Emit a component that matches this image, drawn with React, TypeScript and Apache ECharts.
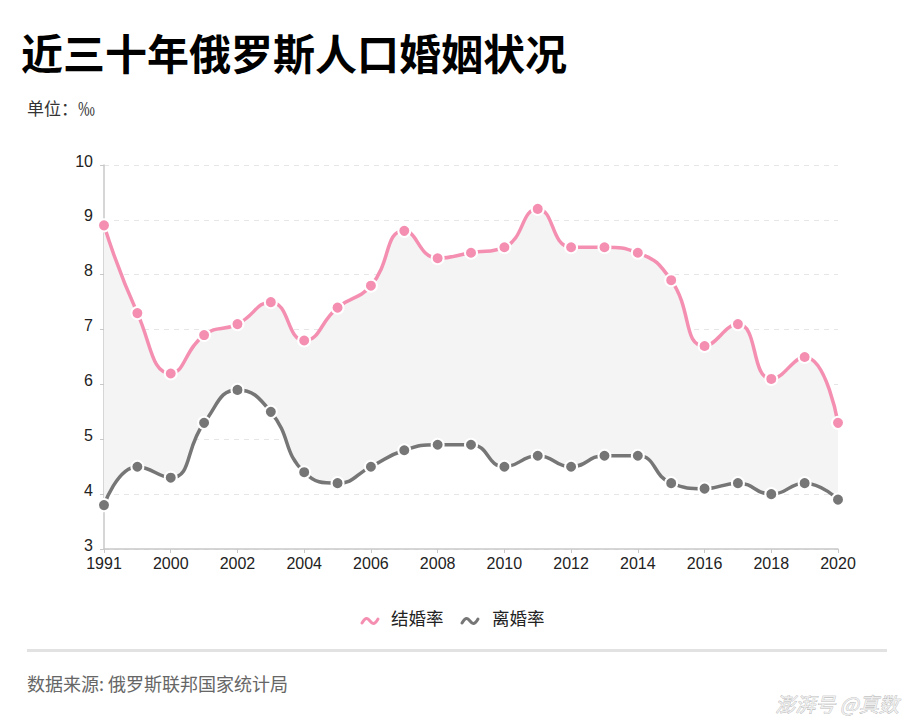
import React, { useEffect, useRef } from "react";
import * as echarts from "echarts";

const years = ["1991", "1995", "2000", "2001", "2002", "2003", "2004", "2005", "2006", "2007", "2008", "2009", "2010", "2011", "2012", "2013", "2014", "2015", "2016", "2017", "2018", "2019", "2020"];
const marriageRate = [8.9, 7.3, 6.2, 6.9, 7.1, 7.5, 6.8, 7.4, 7.8, 8.8, 8.3, 8.4, 8.5, 9.2, 8.5, 8.5, 8.4, 7.9, 6.7, 7.1, 6.1, 6.5, 5.3];
const divorceRate = [3.8, 4.5, 4.3, 5.3, 5.9, 5.5, 4.4, 4.2, 4.5, 4.8, 4.9, 4.9, 4.5, 4.7, 4.5, 4.7, 4.7, 4.2, 4.1, 4.2, 4.0, 4.2, 3.9];
const yTicks = { min: 3, max: 10, interval: 1 };
const seriesNames = ["结婚率", "离婚率"];

const PINK = "#F48FB1";
const GRAY = "#767676";
const FONT = '"Liberation Sans", Arial, "Noto Sans CJK SC", sans-serif';
const CJK = '"Noto Sans CJK SC", "Liberation Sans", sans-serif';

function wave(x: number, y: number, color: string) {
  return {
    type: "bezierCurve",
    shape: { x1: x, y1: y + 2, x2: x + 16, y2: y - 2, cpx1: x + 8, cpy1: y - 12, cpx2: x + 8, cpy2: y + 12 },
    style: { stroke: color, lineWidth: 3, fill: "none", lineCap: "round" },
  };
}

export default function App() {
  const ref = useRef<HTMLDivElement>(null);
  useEffect(() => {
    if (!ref.current) return;
    const chart = echarts.init(ref.current, null, { renderer: "svg" });
    const band = marriageRate.map((m, i) => +(m - divorceRate[i]).toFixed(2));
    chart.setOption({
      animation: false,
      textStyle: { fontFamily: FONT },
      graphic: [
        { type: "text", left: 21, top: 30, style: { text: "近三十年俄罗斯人口婚姻状况", fontSize: 42, fontWeight: "bold", fill: "#000", fontFamily: CJK } },
        { type: "text", left: 27, top: 99, style: { text: "单位：‰", fontSize: 17, fill: "#333", fontFamily: CJK } },
        wave(362, 621, PINK),
        { type: "text", left: 391, top: 609, style: { text: seriesNames[0], fontSize: 17.5, fill: "#222", fontFamily: CJK } },
        wave(462, 621, GRAY),
        { type: "text", left: 492, top: 609, style: { text: seriesNames[1], fontSize: 17.5, fill: "#222", fontFamily: CJK } },
        { type: "rect", shape: { x: 27, y: 649, width: 860, height: 3 }, style: { fill: "#e2e2e2" } },
        { type: "text", left: 27, top: 674, style: { text: "数据来源: 俄罗斯联邦国家统计局", fontSize: 18, fill: "#666", fontFamily: CJK } },
        { type: "text", right: 14, top: 693, style: { text: "澎湃号 @真数", fontSize: 20, fontStyle: "italic", fill: "#eeeeee", stroke: "#aaa", lineWidth: 0.6, fontFamily: CJK } },
      ],
      grid: { left: 104, right: 75, top: 165, bottom: 176 },
      xAxis: {
        type: "category",
        data: years,
        boundaryGap: false,
        axisLine: { lineStyle: { color: "#c8c8c8", width: 1.5 } },
        axisTick: { show: true, interval: 1, length: 4, lineStyle: { color: "#c8c8c8" } },
        axisLabel: { interval: 1, fontSize: 16, color: "#222", margin: 6, fontFamily: FONT },
        splitLine: { show: false },
      },
      yAxis: {
        type: "value",
        min: yTicks.min,
        max: yTicks.max,
        interval: yTicks.interval,
        axisLine: { show: true, lineStyle: { color: "#c8c8c8", width: 1.5 } },
        axisTick: { show: true, length: 4, lineStyle: { color: "#c8c8c8" } },
        axisLabel: { fontSize: 16, color: "#222", margin: 11, verticalAlign: "bottom", lineHeight: 8, fontFamily: FONT },
        splitLine: { lineStyle: { color: "#e6e6e6", type: [5, 5] } },
      },
      series: [
        {
          name: "base",
          type: "line",
          stack: "band",
          data: divorceRate,
          smooth: 0.5,
          symbol: "none",
          lineStyle: { opacity: 0 },
          silent: true,
          z: 1,
        },
        {
          name: "bandArea",
          type: "line",
          stack: "band",
          data: band,
          smooth: 0.5,
          symbol: "none",
          lineStyle: { opacity: 0 },
          areaStyle: { color: "#f4f4f4", opacity: 1 },
          silent: true,
          z: 1,
        },
        {
          name: seriesNames[0],
          type: "line",
          data: marriageRate,
          smooth: 0.5,
          symbol: "circle",
          symbolSize: 12,
          color: PINK,
          lineStyle: { color: PINK, width: 3.5 },
          itemStyle: { color: PINK, borderColor: "#fff", borderWidth: 2 },
          z: 3,
        },
        {
          name: seriesNames[1],
          type: "line",
          data: divorceRate,
          smooth: 0.5,
          symbol: "circle",
          symbolSize: 12,
          color: GRAY,
          lineStyle: { color: GRAY, width: 3.5 },
          itemStyle: { color: GRAY, borderColor: "#fff", borderWidth: 2 },
          z: 3,
        },
      ],
    });
    return () => chart.dispose();
  }, []);
  return <div ref={ref} style={{ position: "absolute", left: 0, top: 0, width: 913, height: 725 }} />;
}
